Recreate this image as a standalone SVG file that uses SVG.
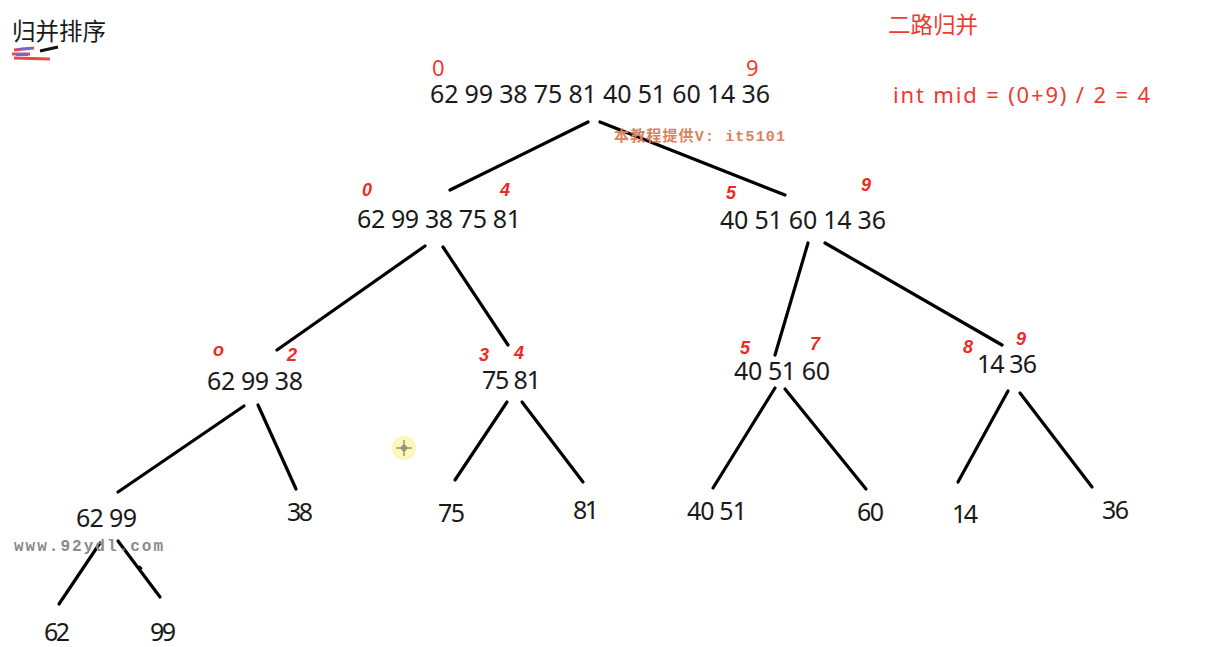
<svg xmlns="http://www.w3.org/2000/svg" width="1231" height="647" viewBox="0 0 1231 647">
<style>
.n{font-family:"Noto Sans","Noto Sans CJK SC",sans-serif;font-size:25px;fill:#1a1a1a}
.r{font-family:"Noto Sans","Noto Sans CJK SC",sans-serif;font-size:22px;fill:#ee3a33}
.h{font-family:"Liberation Sans","Noto Sans",sans-serif;font-size:18px;font-weight:bold;fill:#ee2a22;font-style:italic}
.e{stroke:#000;stroke-width:3.2;stroke-linecap:round;fill:none}
.wm{font-family:"Liberation Mono","DejaVu Sans Mono","Noto Sans CJK SC",monospace;font-weight:bold}
</style>
<rect width="1231" height="647" fill="#fff"/>
<g id="title">
<text x="12" y="40" font-family="Noto Sans CJK SC,sans-serif" font-size="23.5" fill="#1a1a1a">归并排序</text>
<path d="M14 50 L34 48 M12 54 L30 54 M14 58 L50 59" stroke="#e84a4a" stroke-width="3" fill="none"/>
<path d="M18 49 L32 48 M16 55 L28 55" stroke="#6a6ae0" stroke-width="2" fill="none"/>
<path d="M40 51 L58 47" stroke="#111" stroke-width="3" fill="none"/>
</g>
<g id="notes">
<text x="888" y="33" font-family="Noto Sans CJK SC,sans-serif" font-size="22.5" fill="#ee3a33">二路归并</text>
<text class="r" x="893" y="103" font-size="24" textLength="257">int mid = (0+9) / 2 = 4</text>
</g>
<g id="connectors">
<line class="e" x1="588" y1="122" x2="450" y2="190"/>
<line class="e" x1="600" y1="122" x2="785" y2="195"/>
<line class="e" x1="425" y1="246" x2="277" y2="350"/>
<line class="e" x1="443" y1="247" x2="508" y2="345"/>
<line class="e" x1="808" y1="243" x2="775" y2="355"/>
<line class="e" x1="825" y1="243" x2="1002" y2="345"/>
<line class="e" x1="244" y1="406" x2="118" y2="492"/>
<line class="e" x1="258" y1="405" x2="296" y2="489"/>
<line class="e" x1="507" y1="402" x2="455" y2="480"/>
<line class="e" x1="522" y1="402" x2="583" y2="482"/>
<line class="e" x1="775" y1="388" x2="713" y2="488"/>
<line class="e" x1="785" y1="389" x2="866" y2="489"/>
<line class="e" x1="1008" y1="391" x2="958" y2="482"/>
<line class="e" x1="1020" y1="393" x2="1092" y2="487"/>
<line class="e" x1="100" y1="543" x2="59" y2="604"/>
<line class="e" x1="118" y1="541" x2="160" y2="597"/>
<line stroke="#000" stroke-width="2" x1="139" y1="566" x2="142" y2="569"/>
</g>
<g id="root">
<text class="r" x="432" y="76">0</text>
<text class="r" x="746" y="76">9</text>
<text class="n" x="430" y="103" textLength="340">62 99 38 75 81 40 51 60 14 36</text>
</g>
<g id="l1a">
<text class="h" x="362" y="196">0</text>
<text class="h" x="500" y="196">4</text>
<text class="n" x="357" y="228" textLength="164">62 99 38 75 81</text>
</g>
<g id="l1b">
<text class="h" x="726" y="199">5</text>
<text class="h" x="861" y="191">9</text>
<text class="n" x="720" y="229" textLength="166">40 51 60 14 36</text>
</g>
<g id="l2a">
<text class="h" x="213" y="356" font-size="14">o</text>
<text class="h" x="287" y="361">2</text>
<text class="n" x="207" y="390" textLength="96">62 99 38</text>
</g>
<g id="l2b">
<text class="h" x="479" y="361" font-size="16">3</text>
<text class="h" x="514" y="359">4</text>
<text class="n" x="482" y="389" textLength="59">75 81</text>
</g>
<g id="l2c">
<text class="h" x="740" y="354">5</text>
<text class="h" x="810" y="350" font-size="16">7</text>
<text class="n" x="734" y="380" textLength="96">40 51 60</text>
</g>
<g id="l2d">
<text class="h" x="963" y="353">8</text>
<text class="h" x="1016" y="345">9</text>
<text class="n" x="977" y="373" textLength="60">14 36</text>
</g>
<g id="l3">
<g id="n6299"><text class="n" x="76" y="527" textLength="61">62 99</text></g>
<g id="n38"><text class="n" x="287" y="521" textLength="26">38</text></g>
<g id="n75"><text class="n" x="438" y="522" textLength="27">75</text></g>
<g id="n81"><text class="n" x="573" y="519" textLength="26">81</text></g>
<g id="n4051"><text class="n" x="687" y="520" textLength="60">40 51</text></g>
<g id="n60"><text class="n" x="857" y="521" textLength="27">60</text></g>
<g id="n14"><text class="n" x="952" y="523" textLength="26">14</text></g>
<g id="n36"><text class="n" x="1102" y="519" textLength="27">36</text></g>
<g id="n62"><text class="n" x="44" y="641" textLength="26">62</text></g>
<g id="n99"><text class="n" x="150" y="641" textLength="26">99</text></g>
</g>
<g id="watermarks">
<text class="wm" x="614" y="141" font-size="15" fill="#d9825f" textLength="171">本教程提供V: it5101</text>
<text class="wm" x="14" y="551" font-size="16" fill="#8a8a8a" textLength="149">www.92ydl.com</text>
</g>
<g id="cursor">
<circle cx="404" cy="448" r="12" fill="#fbf6b0" opacity="0.9"/>
<path d="M404 440 V456 M396 448 H412" stroke="#666" stroke-width="1"/>
<circle cx="404" cy="448" r="2.5" fill="none" stroke="#666" stroke-width="1"/>
</g>
</svg>
